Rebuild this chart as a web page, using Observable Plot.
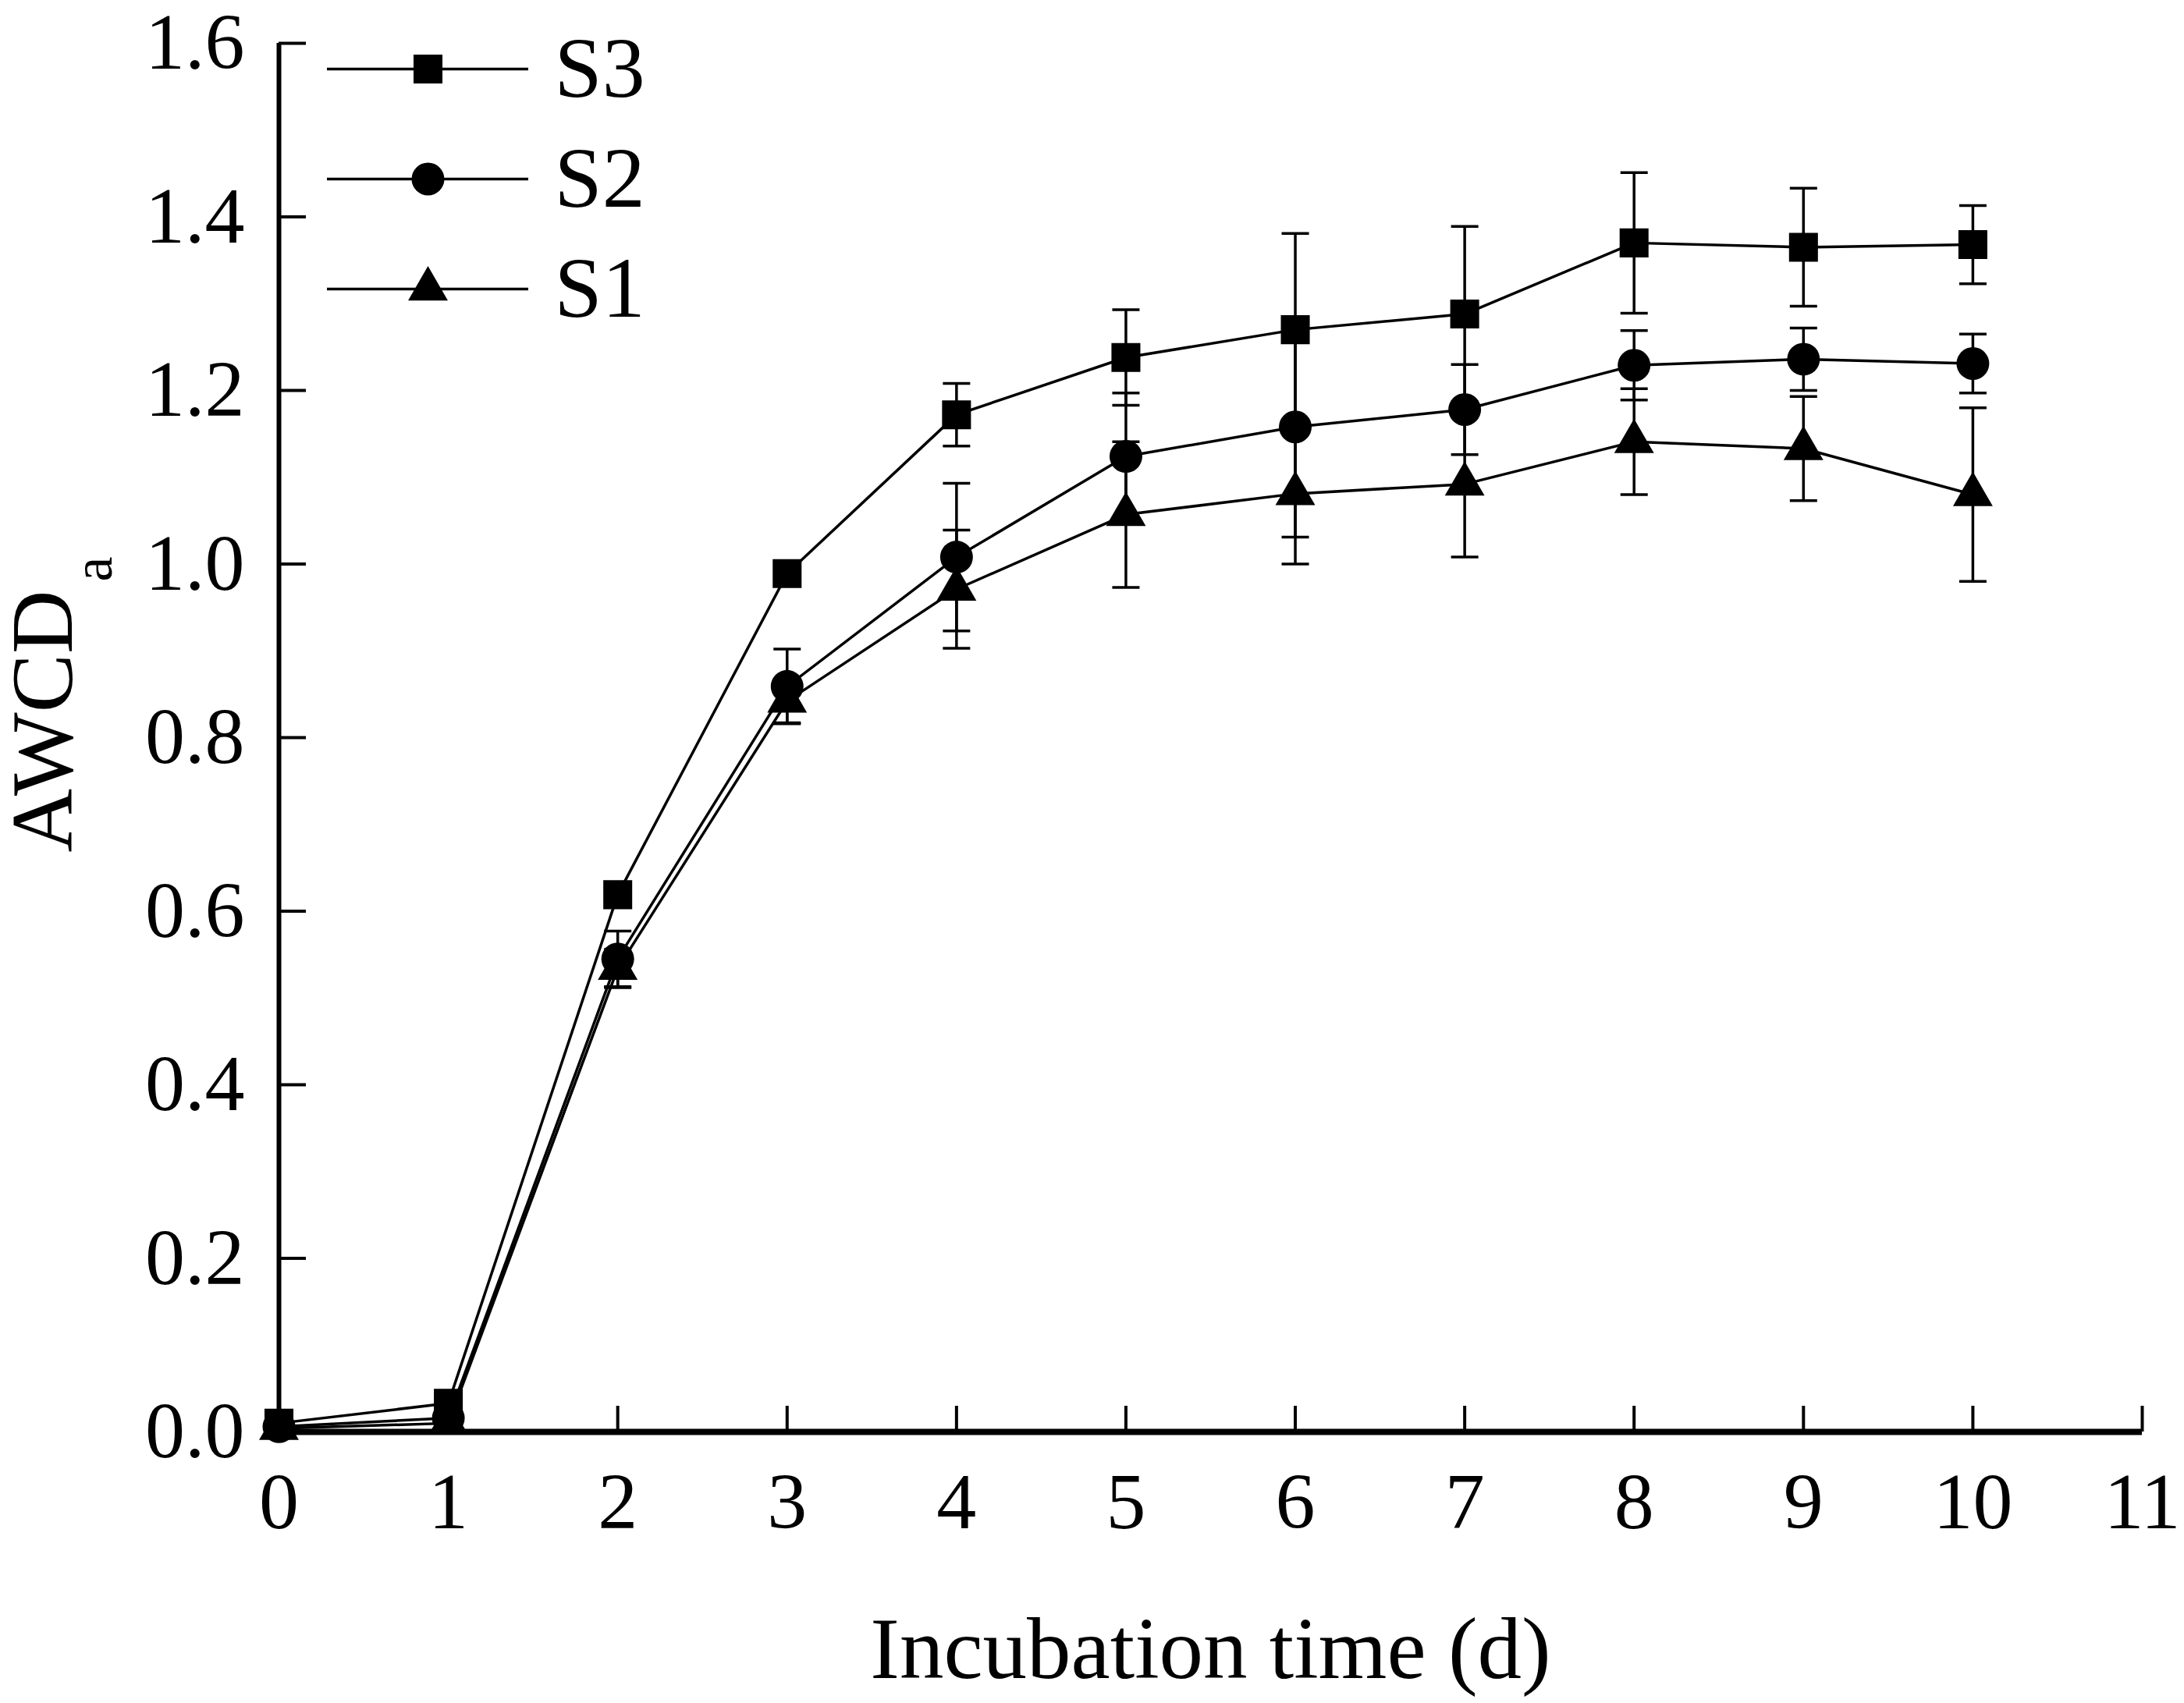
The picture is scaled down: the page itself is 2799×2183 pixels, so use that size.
<!DOCTYPE html>
<html><head><meta charset="utf-8">
<script src="https://cdn.jsdelivr.net/npm/d3@7"></script>
<script src="https://cdn.jsdelivr.net/npm/@observablehq/plot@0.6"></script>
<style>
body{margin:0;background:#fff}
#wrap{position:relative;width:2799px;height:2183px;background:#fff}
#legend{position:absolute;left:400px;top:0px}
</style>
</head><body><div id="wrap"><div id="main"></div><div id="legend"></div></div>
<script>
// ---- data ----
const days = [0, 1, 2, 3, 4, 5, 6, 7, 8, 9, 10];
const s3Mean = [0.010, 0.033, 0.619, 0.989, 1.172, 1.238, 1.270, 1.288, 1.370, 1.365, 1.368];
const s3Err  = [0.005, 0.008, 0.010, 0.010, 0.036, 0.055, 0.111, 0.101, 0.081, 0.068, 0.045];
const s2Mean = [0.006, 0.016, 0.545, 0.859, 1.008, 1.124, 1.158, 1.178, 1.229, 1.236, 1.231];
const s2Err  = [0.003, 0.005, 0.032, 0.043, 0.085, 0.073, 0.127, 0.052, 0.040, 0.036, 0.034];
const s1Mean = [0.004, 0.010, 0.534, 0.842, 0.971, 1.057, 1.081, 1.092, 1.141, 1.133, 1.080];
const s1Err  = [0.002, 0.004, 0.022, 0.025, 0.068, 0.084, 0.081, 0.084, 0.061, 0.060, 0.100];
const seriesNames = ["S3", "S2", "S1"];
const xTicks = [0, 1, 2, 3, 4, 5, 6, 7, 8, 9, 10, 11];
const yTicks = [0, 0.2, 0.4, 0.6, 0.8, 1.0, 1.2, 1.4, 1.6];
const xTitle = "Incubation time (d)";
const yTitle = "AWCD";
const yTitleSub = "a";

// ---- build table ----
const seriesDefs = [
  {name: "S3", mean: s3Mean, err: s3Err, symbol: "square", r: 20.9},
  {name: "S2", mean: s2Mean, err: s2Err, symbol: "circle", r: 21},
  {name: "S1", mean: s1Mean, err: s1Err, symbol: "triangle", r: 18.9}
];
const rows = seriesDefs.flatMap(s => days.map((d, i) => ({
  series: s.name, day: d, v: s.mean[i], lo: s.mean[i] - s.err[i], hi: s.mean[i] + s.err[i]
})));

const W = 2799, H = 2183;
const mL = 357, mR = 54, mT = 55, mB = 348;
const frameW = W - mL - mR, frameH = H - mT - mB;
const font = "'Liberation Serif', 'Times New Roman', serif";

const capSymbol = {draw(ctx, size) { const w = Math.sqrt(size); ctx.moveTo(-w / 2, 0); ctx.lineTo(w / 2, 0); }};
const capR = Math.sqrt(35 * 35 / Math.PI);

const marks = [
  Plot.line(rows, {x: "day", y: "v", z: "series", stroke: "black", strokeWidth: 3.5}),
  Plot.ruleX(rows, {x: "day", y1: "lo", y2: "hi", stroke: "black", strokeWidth: 3.5}),
  Plot.dot(rows, {x: "day", y: "lo", symbol: capSymbol, r: capR, stroke: "black", strokeWidth: 3.5, fill: "none"}),
  Plot.dot(rows, {x: "day", y: "hi", symbol: capSymbol, r: capR, stroke: "black", strokeWidth: 3.5, fill: "none"}),
  ...seriesDefs.map(s => Plot.dot(rows.filter(d => d.series === s.name), {
    x: "day", y: "v", symbol: s.symbol, r: s.r, fill: "black", stroke: "none"
  })),
  // axis lines
  Plot.ruleX([0], {stroke: "black", strokeWidth: 6}),
  Plot.ruleY([0], {stroke: "black", strokeWidth: 8}),
  // inward ticks
  Plot.tickX(xTicks, {x: d => d, insetTop: frameH - 33, stroke: "black", strokeWidth: 4}),
  Plot.tickY(yTicks, {y: d => d, insetRight: frameW - 35, stroke: "black", strokeWidth: 4}),
  // tick labels
  Plot.axisX({ticks: xTicks, tickSize: 0, tickPadding: 51, fontSize: 102, tickFormat: d3.format("d"), label: null}),
  Plot.axisY({ticks: yTicks, tickSize: 0, tickPadding: 44, fontSize: 102, tickFormat: d3.format(".1f"), label: null}),
  // titles
  Plot.text([xTitle], {frameAnchor: "bottom", dy: 315, textAnchor: "middle", lineAnchor: "bottom", fontSize: 113, fill: "black"}),
  Plot.text([yTitle], {frameAnchor: "left", dx: -302, dy: -21, rotate: -90, textAnchor: "middle", lineAnchor: "middle", fontSize: 113, fill: "black"}),
  Plot.text([yTitleSub], {frameAnchor: "left", dx: -238, dy: -216, rotate: -90, textAnchor: "middle", lineAnchor: "middle", fontSize: 72, fill: "black"})
];

const chart = Plot.plot({
  width: W, height: H,
  marginLeft: mL, marginRight: mR, marginTop: mT, marginBottom: mB,
  x: {domain: [0, 11], axis: null},
  y: {domain: [0, 1.6], axis: null},
  style: {background: "white", fontFamily: font, color: "black", overflow: "visible"},
  marks
});
document.getElementById("main").appendChild(chart);

// ---- legend ----
const legend = Plot.plot({
  width: 500, height: 430,
  x: {domain: [0, 1], range: [19, 277], axis: null},
  y: {type: "point", domain: seriesNames, range: [87, 370], padding: 0, axis: null},
  style: {background: "transparent", fontFamily: font, color: "black", overflow: "visible"},
  marks: [
    Plot.ruleY(seriesNames, {y: d => d, x1: 0, x2: 1, stroke: "black", strokeWidth: 3.5}),
    ...seriesDefs.map(s => Plot.dot([s.name], {x: () => 0.5, y: d => d, symbol: s.symbol, r: s.r, fill: "black", stroke: "none"})),
    Plot.text(seriesNames, {x: () => 1, y: d => d, text: d => d, dx: 33, textAnchor: "start", lineAnchor: "middle", fontSize: 110, fill: "black"})
  ]
});
document.getElementById("legend").appendChild(legend);
</script>
</body></html>
